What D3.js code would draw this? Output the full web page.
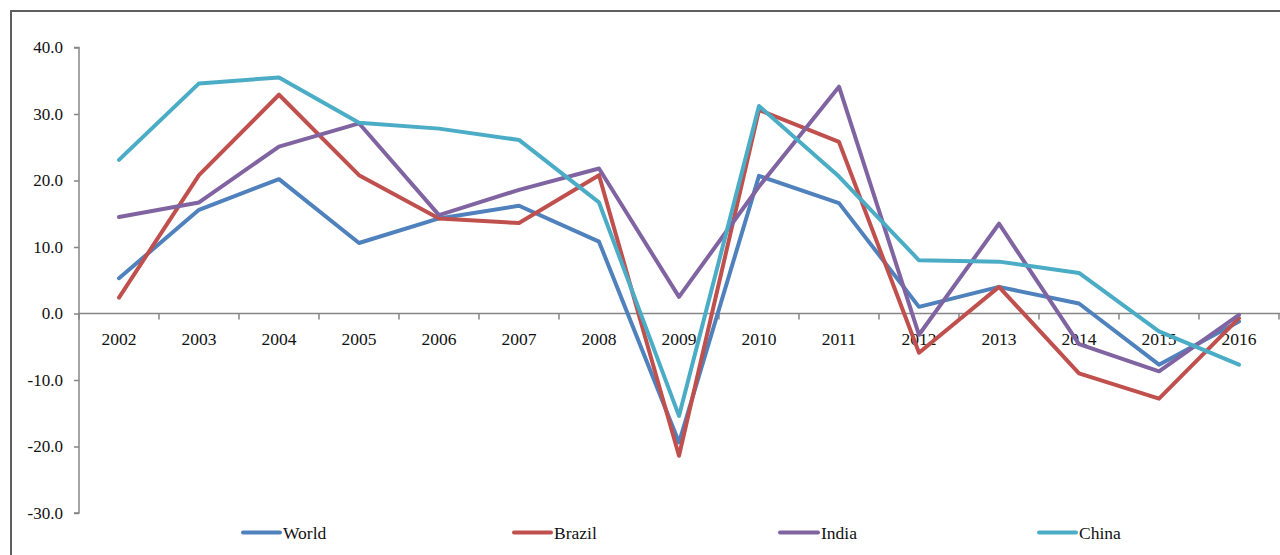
<!DOCTYPE html>
<html>
<head>
<meta charset="utf-8">
<script src="https://cdn.jsdelivr.net/npm/d3@7/dist/d3.min.js"></script>
<style>
html,body{margin:0;padding:0;background:#fff;overflow:hidden;}
svg{display:block;}
text{font-family:"Liberation Serif","Times New Roman",serif;fill:#111;}
</style>
</head>
<body>
<svg id="chart" width="1280" height="555"></svg>
<script>
const years = ["2002","2003","2004","2005","2006","2007","2008","2009","2010","2011","2012","2013","2014","2015","2016"];
const seriesNames = ["World","Brazil","India","China"];
const world  = [5.3,15.6,20.2,10.6,14.3,16.2,10.8,-19.4,20.7,16.6,1.0,4.0,1.5,-7.7,-1.2];
const brazil = [2.4,20.8,32.9,20.8,14.3,13.6,20.8,-21.4,30.6,25.8,-5.9,4.0,-9.0,-12.8,-0.7];
const india  = [14.5,16.7,25.1,28.6,14.8,18.6,21.8,2.5,19.1,34.1,-3.2,13.5,-4.6,-8.7,-0.2];
const china  = [23.1,34.6,35.5,28.7,27.8,26.1,16.7,-15.4,31.2,20.6,8.0,7.8,6.1,-2.7,-7.7];
const yTicks = [-30,-20,-10,0,10,20,30,40];
const colors = ["#4F81BD","#C0504D","#8064A2","#4BACC6"];

const series = [world, brazil, india, china].map((v,i)=>({name:seriesNames[i], values:v, color:colors[i]}));

const svg = d3.select("#chart");

// outer frame
svg.append("rect").attr("x",11).attr("y",11).attr("width",1320).attr("height",620)
  .attr("fill","none").attr("stroke","#5f5f5f").attr("stroke-width",2);

const x = d3.scaleBand().domain(years).range([79,1279]).padding(0);
const y = d3.scaleLinear().domain([-30,40]).range([513,47.5]);
const cx = d => x(d) + x.bandwidth()/2;

// Y axis
const yAxis = svg.append("g").attr("transform","translate(79,0)")
  .call(d3.axisLeft(y).tickValues(yTicks).tickSize(5).tickPadding(11).tickFormat(d=>d.toFixed(1)));
yAxis.select(".domain").attr("stroke","#868686").attr("stroke-width",1.5).attr("d",`M-5,${y(40)}H0V${y(-30)}H-5`);
yAxis.selectAll(".tick line").attr("stroke","#868686").attr("stroke-width",1.5);
yAxis.selectAll(".tick text").style("font-family",'"Liberation Serif",serif').style("font-size","17px").attr("fill","#111");

// X axis at zero
const xAxisG = svg.append("g").attr("transform",`translate(0,${y(0)})`);
xAxisG.append("line").attr("x1",79).attr("x2",1280).attr("y1",0).attr("y2",0)
  .attr("stroke","#868686").attr("stroke-width",1.5);
const boundaries = years.map(d=>x(d)).concat([x(years[years.length-1])+x.bandwidth()]);
xAxisG.selectAll("line.tk").data(boundaries).enter().append("line").attr("class","tk")
  .attr("x1",d=>d).attr("x2",d=>d).attr("y1",0).attr("y2",6)
  .attr("stroke","#868686").attr("stroke-width",1.5);
xAxisG.selectAll("text.lbl").data(years).enter().append("text").attr("class","lbl")
  .attr("x",d=>cx(d)).attr("y",31).attr("text-anchor","middle")
  .style("font-size","17.5px").text(d=>d);

// lines
const line = d3.line().x((d,i)=>cx(years[i])).y(d=>y(d));
svg.append("g").selectAll("path").data(series).enter().append("path")
  .attr("d",d=>line(d.values)).attr("fill","none")
  .attr("stroke",d=>d.color).attr("stroke-width",4)
  .attr("stroke-linejoin","round").attr("stroke-linecap","round");

// legend
const legendX = [243,514,780,1039];
const legendW = [37,37,38,37];
const lg = svg.append("g").attr("transform","translate(0,532.5)");
const items = lg.selectAll("g").data(series).enter().append("g")
  .attr("transform",(d,i)=>`translate(${legendX[i]},0)`);
items.append("line").attr("x1",0).attr("x2",(d,i)=>legendW[i]).attr("y1",0).attr("y2",0)
  .attr("stroke",d=>d.color).attr("stroke-width",4).attr("stroke-linecap","round");
items.append("text").attr("x",(d,i)=>legendW[i]+3).attr("y",6).style("font-size","17.5px").text(d=>d.name);
</script>
</body>
</html>
